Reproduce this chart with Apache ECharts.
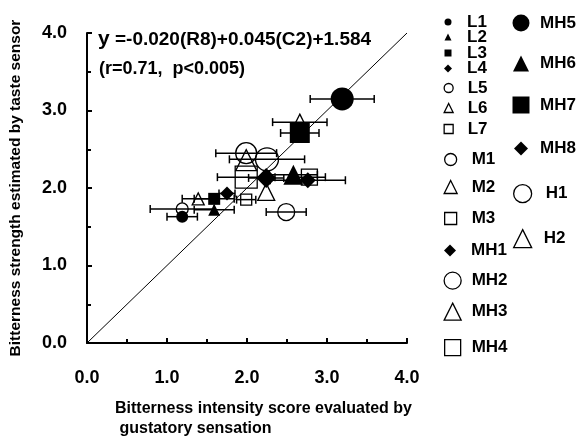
<!DOCTYPE html>
<html lang="en">
<head>
<meta charset="UTF-8">
<title>bitterness</title>
<script src="https://cdn.jsdelivr.net/npm/echarts@6/dist/echarts.min.js"></script>
</head>
<body style="margin:0">
<div id="main" style="width:587px;height:436px;"></div>
<script type="text/javascript">

    // samples
    var names = ['L1', 'L2', 'L3', 'L4', 'L5', 'L6', 'L7', 'M1', 'M2', 'M3',
        'MH1', 'MH2', 'MH3', 'MH4', 'MH5', 'MH6', 'MH7', 'MH8', 'H1', 'H2'];
    // x: gustatory score, y: taste sensor estimate, sdX: horizontal error
    var gustatory = [1.19, 1.59, 1.59, 1.75, 1.19, 1.39, 1.99, 2.49, 2.24, 2.78,
        2.24, 1.99, 1.99, 1.99, 3.19, 2.58, 2.66, 2.76, 2.25, 2.66];
    var sensor = [1.63, 1.72, 1.86, 1.93, 1.73, 1.86, 1.85, 1.69, 1.95, 2.14,
        2.13, 2.45, 2.36, 2.14, 3.15, 2.17, 2.71, 2.10, 2.37, 2.85];
    var sdX = [0.19, 0.25, 0.25, 0.1, 0.4, 0.2, 0.12, 0.25, 0, 0.2,
        0.22, 0.38, 0, 0.36, 0.4, 0.3, 0.24, 0.47, 0.47, 0.34];
    var axisTicks = [0, 1, 2, 3, 4];

    var FONT = 'Arial, "Liberation Sans", sans-serif';

    // marker style per sample: symbol, filled, size on plot, legend icon size, legend x/y, label x
    var look = {
        L1: ['circle', 1, 12, 7, 448, 17, 467],
        L2: ['triangle', 1, 12, 7, 448, 32, 467],
        L3: ['rect', 1, 12, 7, 448, 48, 467],
        L4: ['diamond', 1, 14, 8, 448, 64, 467],
        L5: ['circle', 0, 12, 9, 448, 84, 467],
        L6: ['triangle', 0, 12, 9, 448, 104, 467],
        L7: ['rect', 0, 11, 9, 448, 125, 467],
        M1: ['circle', 0, 17, 12, 450, 157, 471],
        M2: ['triangle', 0, 17, 13, 450, 185, 471],
        M3: ['rect', 0, 16, 12, 450, 216, 471],
        MH1: ['diamond', 1, 20, 12, 450, 248, 471],
        MH2: ['circle', 0, 21, 17, 452, 280, 471],
        MH3: ['triangle', 0, 21, 17, 452, 311, 471],
        MH4: ['rect', 0, 22, 16, 452, 347, 471],
        MH5: ['circle', 1, 23, 17, 521, 23, 540],
        MH6: ['triangle', 1, 20, 16, 521, 63, 540],
        MH7: ['rect', 1, 20, 17, 521, 105, 540],
        MH8: ['diamond', 1, 16, 14, 521, 147, 540],
        H1: ['circle', 0, 23, 18, 522, 193, 545],
        H2: ['triangle', 0, 16, 18, 522, 238, 543]
    };

    function styleOf(filled) {
        return filled ? {color: '#000', borderWidth: 0, opacity: 1}
            : {color: 'transparent', borderColor: '#000', borderWidth: 1.3, opacity: 1};
    }

    var series = [];
    series.push({
        name: 'diag',
        type: 'line',
        data: [[axisTicks[0], axisTicks[0]], [axisTicks[4], axisTicks[4]]],
        symbol: 'none',
        silent: true,
        lineStyle: {color: '#000', width: 1},
        z: 1
    });
    series.push({
        name: 'err',
        type: 'custom',
        silent: true,
        z: 2,
        data: names.map(function (n, i) {
            return [gustatory[i], sensor[i], sdX[i]];
        }),
        encode: {x: 0, y: 1},
        renderItem: function (params, api) {
            var x = api.value(0), y = api.value(1), e = api.value(2);
            if (!e) return;
            var a = api.coord([x - e, y]), b = api.coord([x + e, y]);
            var st = {stroke: '#000', lineWidth: 1.5};
            return {
                type: 'group',
                children: [
                    {type: 'line', shape: {x1: a[0], y1: a[1], x2: b[0], y2: b[1]}, style: st},
                    {type: 'line', shape: {x1: a[0], y1: a[1] - 4, x2: a[0], y2: a[1] + 4}, style: st},
                    {type: 'line', shape: {x1: b[0], y1: b[1] - 4, x2: b[0], y2: b[1] + 4}, style: st}
                ]
            };
        }
    });
    names.forEach(function (n, i) {
        var s = look[n];
        series.push({
            name: n,
            type: 'scatter',
            data: [[gustatory[i], sensor[i]]],
            symbol: s[0],
            symbolSize: s[2],
            itemStyle: styleOf(s[1]),
            z: s[1] ? 4 : 3
        });
    });

    var legends = names.map(function (n) {
        var s = look[n];
        var left = s[4] - s[3] / 2;
        return {
            data: [n],
            left: left,
            top: s[5] - s[3] / 2,
            padding: 0,
            itemWidth: s[3],
            itemHeight: s[3],
            selectedMode: false,
            icon: s[0],
            itemStyle: styleOf(s[1]),
            textStyle: {
                color: '#000', fontWeight: 'bold', fontSize: 17, fontFamily: FONT,
                padding: [0, 0, 0, s[6] - (left + s[3] + 5)]
            }
        };
    });

    var axisCommon = {
        type: 'value',
        min: axisTicks[0],
        max: axisTicks[4],
        interval: 1,
        axisLine: {show: true, lineStyle: {color: '#000', width: 2}},
        axisTick: {show: true, inside: true, length: 5, lineStyle: {color: '#000', width: 2}},
        minorTick: {show: true, splitNumber: 2, length: 4, lineStyle: {color: '#000', width: 2}},
        splitLine: {show: false},
        axisLabel: {
            color: '#000', fontWeight: 'bold', fontSize: 18, fontFamily: FONT,
            formatter: function (v) { return v.toFixed(1); }
        }
    };

    var option = {
        animation: false,
        backgroundColor: '#fff',
        grid: {left: 85, top: 33, width: 322, height: 310},
        xAxis: echarts.util.merge({
            axisLabel: {margin: 26}
        }, axisCommon),
        yAxis: echarts.util.merge({
            name: 'Bitterness strength estimated by taste sensor',
            nameLocation: 'middle',
            nameGap: 63,
            nameTextStyle: {color: '#000', fontWeight: 'bold', fontSize: 15.5, fontFamily: FONT},
            axisLabel: {margin: 20}
        }, axisCommon),
        legend: legends,
        graphic: [
            {
                type: 'text', left: 98, top: 29,
                style: {
                    text: '{y|y} =-0.020(R8)+0.045(C2)+1.584',
                    fill: '#000', font: 'bold 19px ' + FONT,
                    rich: {y: {fontSize: 21, fontWeight: 'bold', fontFamily: FONT}}
                }
            },
            {
                type: 'text', left: 99, top: 60,
                style: {text: '(r=0.71,  p<0.005)', fill: '#000', font: 'bold 18px ' + FONT}
            },
            {
                type: 'text', left: 115, top: 401,
                style: {text: 'Bitterness intensity score evaluated by', fill: '#000', font: 'bold 16px ' + FONT}
            },
            {
                type: 'text', left: 115, top: 421,
                style: {text: ' gustatory sensation', fill: '#000', font: 'bold 16px ' + FONT}
            }
        ],
        series: series
    };

    var myChart = echarts.init(document.getElementById('main'));
    myChart.setOption(option);

</script>
</body>
</html>
